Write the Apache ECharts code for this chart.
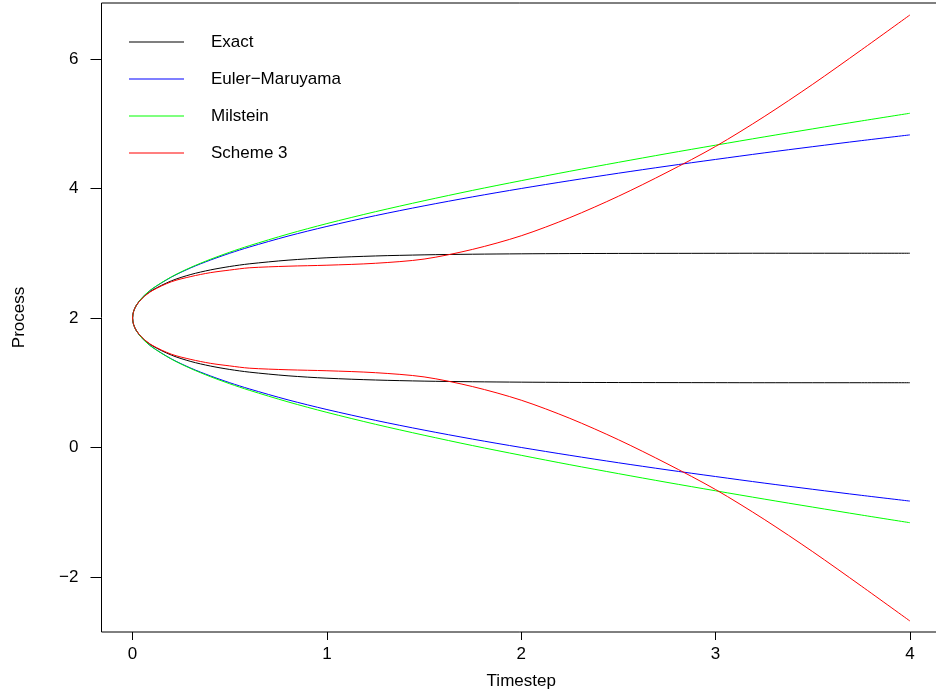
<!DOCTYPE html>
<html>
<head>
<meta charset="utf-8">
<script src="https://cdn.jsdelivr.net/npm/echarts@6/dist/echarts.min.js"></script>
<style>
html,body{margin:0;padding:0;background:#fff;}
#chart{width:936px;height:693px;}
</style>
</head>
<body>
<div id="chart"></div>
<script>
// ---- data ----
const timesteps   = [0, 0.005, 0.02, 0.05, 0.1, 0.2, 0.3, 0.4, 0.5, 0.6, 0.8, 1.0, 1.25, 1.5, 1.75, 2.0, 2.25, 2.5, 2.75, 3.0, 3.25, 3.5, 3.75, 4.0];

const exactUpper  = [2, 2.10, 2.198, 2.309, 2.426, 2.574, 2.672, 2.742, 2.795, 2.836, 2.893, 2.930, 2.958, 2.975, 2.985, 2.991, 2.995, 2.997, 2.998, 2.999, 3.0, 3.0, 3.0, 3.0];
const exactLower  = [2, 1.90, 1.802, 1.691, 1.574, 1.426, 1.328, 1.258, 1.205, 1.164, 1.107, 1.070, 1.042, 1.025, 1.015, 1.009, 1.005, 1.003, 1.002, 1.001, 1.0, 1.0, 1.0, 1.0];

const eulerUpper  = [2, 2.10, 2.20, 2.316, 2.447, 2.632, 2.775, 2.894, 3.0, 3.095, 3.265, 3.414, 3.581, 3.732, 3.871, 4.0, 4.121, 4.236, 4.345, 4.449, 4.550, 4.646, 4.739, 4.828];
const eulerLower  = [2, 1.90, 1.80, 1.684, 1.553, 1.368, 1.225, 1.106, 1.0, 0.905, 0.735, 0.586, 0.419, 0.268, 0.129, 0.0, -0.121, -0.236, -0.345, -0.449, -0.550, -0.646, -0.739, -0.828];

const milUpper    = [2, 2.10, 2.20, 2.317, 2.449, 2.636, 2.782, 2.906, 3.016, 3.116, 3.296, 3.458, 3.642, 3.811, 3.971, 4.121, 4.266, 4.404, 4.539, 4.669, 4.797, 4.921, 5.043, 5.162];
const milLower    = [2, 1.90, 1.80, 1.683, 1.551, 1.364, 1.218, 1.094, 0.984, 0.884, 0.704, 0.542, 0.358, 0.189, 0.029, -0.121, -0.266, -0.404, -0.539, -0.669, -0.797, -0.921, -1.043, -1.162];

const s3Upper     = [2, 2.10, 2.198, 2.305, 2.42, 2.56, 2.64, 2.70, 2.74, 2.775, 2.80, 2.815, 2.845, 2.91, 3.06, 3.27, 3.55, 3.88, 4.25, 4.65, 5.11, 5.61, 6.14, 6.68];
const s3Lower     = [2, 1.90, 1.802, 1.695, 1.58, 1.44, 1.36, 1.30, 1.26, 1.225, 1.20, 1.185, 1.155, 1.09, 0.94, 0.73, 0.45, 0.12, -0.25, -0.65, -1.11, -1.61, -2.14, -2.68];

const seriesNames = ['Exact', 'Euler\u2212Maruyama', 'Milstein', 'Scheme 3'];
const seriesColors = ['#000000', '#0000ff', '#00ff00', '#ff0000'];
const xTicks = [0, 1, 2, 3, 4];
const yTicks = [-2, 0, 2, 4, 6];

// build a continuous path: upper branch (t=4 -> 0), then lower branch (t=0 -> 4)
function branchPath(upper, lower) {
  const pts = [];
  for (let i = timesteps.length - 1; i >= 0; i--) pts.push([timesteps[i], upper[i]]);
  for (let i = 1; i < timesteps.length; i++) pts.push([timesteps[i], lower[i]]);
  return pts;
}
const paths = [
  branchPath(exactUpper, exactLower),
  branchPath(eulerUpper, eulerLower),
  branchPath(milUpper, milLower),
  branchPath(s3Upper, s3Lower)
];

const font = '"Liberation Sans", Arial, Helvetica, sans-serif';
const chart = echarts.init(document.getElementById('chart'), null, {renderer: 'canvas'});
chart.setOption({
  animation: false,
  backgroundColor: '#ffffff',
  grid: {
    left: 101.5, top: 3, right: -5, bottom: 61,
    containLabel: false, outerBoundsMode: 'none',
    show: true, borderColor: '#000', borderWidth: 1, backgroundColor: 'transparent'
  },
  legend: {
    orient: 'vertical',
    left: 129, top: 33.5, padding: 0,
    itemWidth: 55, itemHeight: 1,
    itemGap: 20,
    textStyle: {fontFamily: font, fontSize: 17, color: '#000', padding: [0, 0, 0, 22]},
    data: seriesNames.map((n, i) => ({
      name: n,
      icon: 'rect',
      itemStyle: {color: seriesColors[i], borderWidth: 0, opacity: 1}
    }))
  },
  xAxis: {
    type: 'value', min: -0.16, max: 4.16,
    name: 'Timestep', nameLocation: 'middle', nameGap: 41,
    nameTextStyle: {fontFamily: font, fontSize: 17, color: '#000'},
    axisLine: {show: false, onZero: false},
    axisTick: {show: true, length: 8, lineStyle: {color: '#000'}, customValues: xTicks},
    axisLabel: {show: true, margin: 14, fontFamily: font, fontSize: 17, color: '#000', customValues: xTicks},
    splitLine: {show: false}
  },
  yAxis: {
    type: 'value', min: -2.85, max: 6.865,
    name: 'Process', nameLocation: 'middle', nameGap: 74, nameRotate: 90,
    nameTextStyle: {fontFamily: font, fontSize: 17, color: '#000'},
    axisLine: {show: false, onZero: false},
    axisTick: {show: true, length: 11, lineStyle: {color: '#000'}, customValues: yTicks},
    axisLabel: {show: true, margin: 23, fontFamily: font, fontSize: 17, color: '#000', customValues: yTicks,
      formatter: v => (v < 0 ? '\u2212' + Math.abs(v) : String(v))},
    splitLine: {show: false}
  },
  series: paths.map((p, i) => ({
    name: seriesNames[i],
    type: 'line',
    data: p,
    symbol: 'none',
    smooth: 0.3,
    lineStyle: {color: seriesColors[i], width: 1},
    itemStyle: {color: seriesColors[i]},
    z: 2 + i
  }))
});
</script>
</body>
</html>
